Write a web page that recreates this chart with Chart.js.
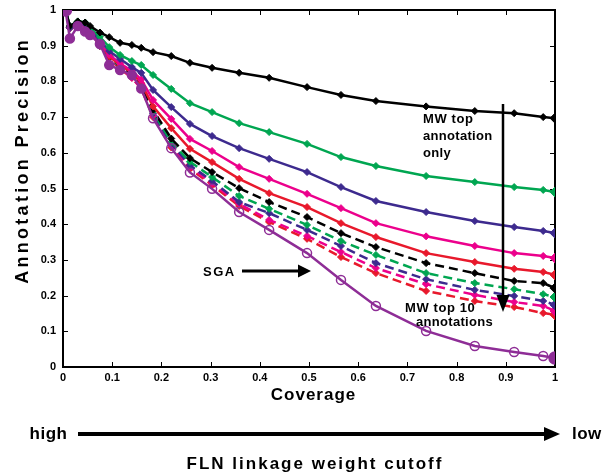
<!DOCTYPE html>
<html><head><meta charset="utf-8">
<script src="https://cdn.jsdelivr.net/npm/chart.js@4/dist/chart.umd.min.js"></script>
<style>html,body{margin:0;padding:0;background:#fff}#wrap{width:608px;height:474px}</style>
</head><body><div id="wrap"><canvas id="c" width="608" height="474"></canvas></div>
<script>
// shared coverage values (x)
const coverage = [0.005, 0.014, 0.03, 0.045, 0.055, 0.075, 0.094, 0.116, 0.14, 0.159, 0.183, 0.22, 0.258, 0.303, 0.358, 0.419, 0.496, 0.565, 0.636, 0.738, 0.837, 0.917, 0.976, 1.0];
// annotation precision per series
const blackSolid   = [1.0, 0.955, 0.968, 0.965, 0.955, 0.937, 0.924, 0.908, 0.902, 0.894, 0.882, 0.871, 0.852, 0.838, 0.824, 0.81, 0.784, 0.762, 0.745, 0.73, 0.717, 0.711, 0.70, 0.697];
const greenSolid   = [1.0, 0.955, 0.968, 0.965, 0.95, 0.925, 0.896, 0.874, 0.857, 0.846, 0.818, 0.779, 0.739, 0.714, 0.683, 0.658, 0.625, 0.588, 0.563, 0.535, 0.518, 0.504, 0.496, 0.49];
const indigoSolid  = [1.0, 0.95, 0.965, 0.962, 0.945, 0.915, 0.885, 0.863, 0.84, 0.824, 0.776, 0.728, 0.681, 0.647, 0.613, 0.583, 0.546, 0.504, 0.465, 0.434, 0.409, 0.392, 0.381, 0.375];
const magentaSolid = [1.0, 0.95, 0.965, 0.96, 0.94, 0.905, 0.875, 0.85, 0.83, 0.805, 0.748, 0.695, 0.639, 0.605, 0.56, 0.527, 0.485, 0.445, 0.403, 0.366, 0.339, 0.319, 0.311, 0.305];
const redSolid     = [1.0, 0.95, 0.965, 0.96, 0.94, 0.9, 0.87, 0.845, 0.825, 0.795, 0.73, 0.669, 0.611, 0.574, 0.527, 0.487, 0.448, 0.403, 0.364, 0.319, 0.294, 0.275, 0.266, 0.258];
const blackDashed  = [1.0, 0.95, 0.965, 0.96, 0.94, 0.9, 0.87, 0.845, 0.82, 0.79, 0.72, 0.64, 0.585, 0.546, 0.501, 0.462, 0.42, 0.375, 0.336, 0.291, 0.263, 0.241, 0.235, 0.221];
const greenDashed  = [1.0, 0.95, 0.965, 0.96, 0.94, 0.9, 0.87, 0.84, 0.815, 0.785, 0.715, 0.63, 0.575, 0.532, 0.479, 0.443, 0.398, 0.353, 0.314, 0.263, 0.235, 0.218, 0.204, 0.196];
const indigoDashed = [1.0, 0.95, 0.965, 0.96, 0.94, 0.9, 0.87, 0.84, 0.815, 0.785, 0.71, 0.625, 0.565, 0.521, 0.462, 0.431, 0.384, 0.339, 0.291, 0.246, 0.216, 0.199, 0.185, 0.174];
const magentaDashed= [1.0, 0.95, 0.965, 0.96, 0.94, 0.9, 0.865, 0.84, 0.81, 0.78, 0.705, 0.62, 0.56, 0.515, 0.457, 0.412, 0.367, 0.322, 0.277, 0.232, 0.202, 0.182, 0.171, 0.157];
const redDashed    = [1.0, 0.95, 0.965, 0.96, 0.94, 0.9, 0.865, 0.835, 0.81, 0.78, 0.70, 0.615, 0.555, 0.51, 0.451, 0.406, 0.359, 0.308, 0.263, 0.213, 0.185, 0.168, 0.151, 0.146];
const sga          = [1.0, 0.92, 0.955, 0.94, 0.93, 0.905, 0.846, 0.832, 0.818, 0.78, 0.697, 0.613, 0.545, 0.499, 0.434, 0.384, 0.319, 0.244, 0.171, 0.101, 0.059, 0.042, 0.031, 0.025];
const tickValues = [0, 0.1, 0.2, 0.3, 0.4, 0.5, 0.6, 0.7, 0.8, 0.9, 1];

const C = {black:'#000000', green:'#00a651', indigo:'#3d2a8e', magenta:'#ec008c', red:'#e8192c', purple:'#8e2d96'};
const FONT = 'Arial, "Liberation Sans", sans-serif';
const pts = ys => coverage.map((x,i)=>({x, y: ys[i]}));
const lastBig = (small, big) => ctx => (ctx.dataIndex === coverage.length-1 ? big : small);

function series(label, ys, color, dashed){
  return {label, data: pts(ys), borderColor: color, backgroundColor: color, borderWidth: 2.5,
    borderDash: dashed ? [9,5] : [], pointStyle: 'rectRot', pointRadius: lastBig(3.5, 5),
    pointBorderWidth: 1, pointBorderColor: color, pointBackgroundColor: color, tension: 0};
}

const datasets = [
  {label:'SGA', data: pts(sga), borderColor: C.purple, borderWidth: 2.5, pointStyle:'circle',
   pointRadius: ctx => (ctx.dataIndex === 0 || ctx.dataIndex === coverage.length-1) ? 6 : 4.5,
   pointBorderWidth: 1.5, pointBorderColor: C.purple,
   pointBackgroundColor: ctx => (ctx.dataIndex === 0 || ctx.dataIndex === coverage.length-1 || ctx.dataIndex < 10) ? C.purple : 'rgba(255,255,255,0)', tension: 0},
  series('MW top 1', blackSolid, C.black, false),
  series('MW top 2', greenSolid, C.green, false),
  series('MW top 3', indigoSolid, C.indigo, false),
  series('MW top 4', magentaSolid, C.magenta, false),
  series('MW top 5', redSolid, C.red, false),
  series('MW top 6', blackDashed, C.black, true),
  series('MW top 7', greenDashed, C.green, true),
  series('MW top 8', indigoDashed, C.indigo, true),
  series('MW top 9', magentaDashed, C.magenta, true),
  series('MW top 10', redDashed, C.red, true),
];

function fmt(v){ const r = Math.round(v*10)/10; return (r === 0 || r === 1) ? String(r) : r.toFixed(1); }

function spacedText(ctx, txt, x, y, font, spacing, align){
  ctx.save();
  ctx.font = font; ctx.fillStyle = '#000'; ctx.textBaseline = 'middle';
  ctx.letterSpacing = spacing + 'px';
  const w = ctx.measureText(txt).width - spacing;
  let sx = align === 'center' ? x - w/2 : (align === 'right' ? x - w : x);
  ctx.textAlign = 'left';
  ctx.fillText(txt, sx, y);
  ctx.restore();
}
function arrow(ctx, x1, y1, x2, y2, lw, hl, hw){
  const ang = Math.atan2(y2-y1, x2-x1);
  const bx = x2 - hl*Math.cos(ang), by = y2 - hl*Math.sin(ang);
  ctx.save();
  ctx.strokeStyle = '#000'; ctx.fillStyle = '#000'; ctx.lineWidth = lw;
  ctx.beginPath(); ctx.moveTo(x1,y1); ctx.lineTo(bx,by); ctx.stroke();
  ctx.beginPath(); ctx.moveTo(x2,y2);
  ctx.lineTo(bx + hw/2*Math.sin(ang), by - hw/2*Math.cos(ang));
  ctx.lineTo(bx - hw/2*Math.sin(ang), by + hw/2*Math.cos(ang));
  ctx.closePath(); ctx.fill();
  ctx.restore();
}

const decor = {
  id: 'decor',
  beforeDatasetsDraw(chart){
    const {ctx, chartArea: a, scales: {x, y}} = chart;
    ctx.save();
    ctx.strokeStyle = '#000'; ctx.lineWidth = 1;
    ctx.beginPath();
    tickValues.forEach(v => {
      const px = Math.round(x.getPixelForValue(v)) + 0.5;
      ctx.moveTo(px, a.bottom); ctx.lineTo(px, a.bottom - 5);
      ctx.moveTo(px, a.top); ctx.lineTo(px, a.top + 5);
      const py = Math.round(y.getPixelForValue(v)) + 0.5;
      ctx.moveTo(a.left, py); ctx.lineTo(a.left + 5, py);
      ctx.moveTo(a.right, py); ctx.lineTo(a.right - 5, py);
    });
    ctx.stroke();
    ctx.lineWidth = 2;
    ctx.strokeRect(a.left, a.top, a.right - a.left, a.bottom - a.top);
    ctx.restore();
  },
  afterDraw(chart){
    const ctx = chart.ctx;
    // axis titles
    ctx.save();
    ctx.translate(23, 162); ctx.rotate(-Math.PI/2);
    spacedText(ctx, 'Annotation Precision', 0, 0, 'bold 18px ' + FONT, 3.3, 'center');
    ctx.restore();
    spacedText(ctx, 'Coverage', 313, 395, 'bold 17px ' + FONT, 1, 'center');
    // annotations
    const f13 = 'bold 13px ' + FONT;
    spacedText(ctx, 'MW top', 423, 119, f13, 0.6, 'left');
    spacedText(ctx, 'annotation', 423, 136, f13, 0.3, 'left');
    spacedText(ctx, 'only', 423, 153, f13, 0.3, 'left');
    spacedText(ctx, 'MW top 10', 405, 308, f13, 0.6, 'left');
    spacedText(ctx, 'annotations', 416, 322, f13, 0.3, 'left');
    spacedText(ctx, 'SGA', 203, 272, f13, 1.5, 'left');
    arrow(ctx, 503, 104, 503, 312, 2.5, 17, 13);
    arrow(ctx, 242, 271, 311, 271, 3, 13, 13);
    // bottom cutoff arrow
    spacedText(ctx, 'high', 67, 434, 'bold 17px ' + FONT, 0.5, 'right');
    arrow(ctx, 78, 434, 560, 434, 4, 16, 14);
    spacedText(ctx, 'low', 572, 434, 'bold 17px ' + FONT, 0.5, 'left');
    spacedText(ctx, 'FLN linkage weight cutoff', 314, 464, 'bold 17px ' + FONT, 2, 'center');
  }
};

function noPad(s){ s.paddingTop = 0; s.paddingBottom = 0; s.paddingLeft = 0; s.paddingRight = 0; }

new Chart(document.getElementById('c'), {
  type: 'line',
  data: { datasets },
  options: {
    responsive: false, animation: false, devicePixelRatio: 1,
    layout: { padding: { top: 10, right: 53, bottom: 67, left: 0 } },
    plugins: { legend: { display: false }, tooltip: { enabled: false } },
    scales: {
      x: { type: 'linear', min: 0, max: 1,
           afterBuildTicks: s => { s.ticks = tickValues.map(v => ({value: v})); },
           afterFit: s => { s.height = 40; noPad(s); },
           grid: { display: false, drawTicks: false, tickLength: 0 }, border: { display: true, color: '#000', width: 2 },
           ticks: { callback: fmt, color: '#000', padding: 4, maxRotation: 0, autoSkip: false, font: { family: FONT, size: 11, weight: 'bold' } } },
      y: { type: 'linear', min: 0, max: 1,
           afterBuildTicks: s => { s.ticks = tickValues.map(v => ({value: v})); },
           afterFit: s => { s.width = 63; noPad(s); },
           grid: { display: false, drawTicks: false, tickLength: 0 }, border: { display: true, color: '#000', width: 2 },
           ticks: { callback: fmt, color: '#000', padding: 7, autoSkip: false, font: { family: FONT, size: 11, weight: 'bold' } } }
    }
  },
  plugins: [decor]
});
</script></body></html>
